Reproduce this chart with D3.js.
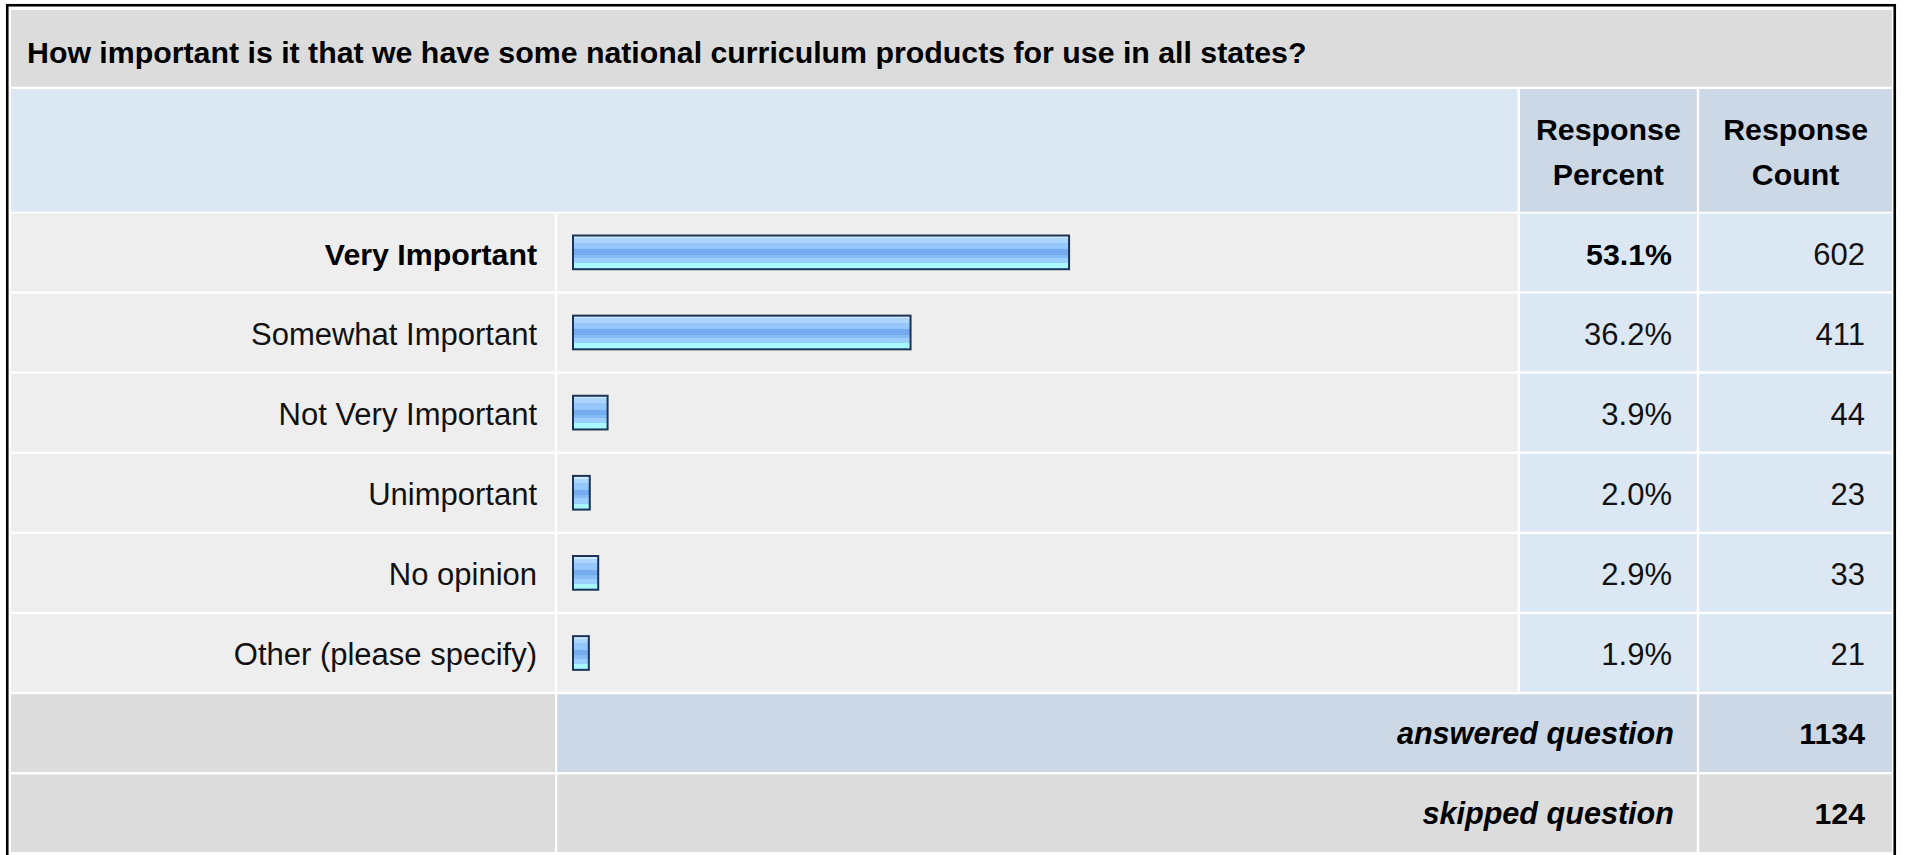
<!DOCTYPE html>
<html>
<head>
<meta charset="utf-8">
<script src="https://cdn.jsdelivr.net/npm/d3@7"></script>
<style>
  html, body { margin: 0; padding: 0; background: #ffffff; }
  svg { display: block; }
</style>
</head>
<body>
<svg id="chart" width="1907" height="855"></svg>
<script>
// ---- data ----
const title = "How important is it that we have some national curriculum products for use in all states?";
const categories = ["Very Important", "Somewhat Important", "Not Very Important", "Unimportant", "No opinion", "Other (please specify)"];
const percents = [53.1, 36.2, 3.9, 2.0, 2.9, 1.9];
const counts = [602, 411, 44, 23, 33, 21];
const headerPercent = ["Response", "Percent"];
const headerCount = ["Response", "Count"];
const summaryLabels = ["answered question", "skipped question"];
const summaryValues = [1134, 124];

// ---- layout ----
const W = 1907, H = 855;
const FONT = "'Liberation Sans', Arial, Helvetica, sans-serif";
const FS_REG = 31, FS_BOLD = 30.3, FS_IT = 30.6;
const col = {
  label: [11, 555],
  bar: [557.3, 1517.6],
  pct: [1520, 1696.8],
  cnt: [1699.2, 1892]
};
const C = {
  title: "#dcdcdc",
  headLeft: "#dce7f4",
  headCol: "#ccd8e6",
  rowCell: "#eeeeee",
  rowVal: "#dce7f4",
  ansCell: "#ccd8e6",
  skipCell: "#dcdcdc",
  text: "#111111",
  barStroke: "#1b3455"
};

const svg = d3.select("#chart");

// gradient for bars
const defs = svg.append("defs");
const grad = defs.append("linearGradient").attr("id", "barGrad")
  .attr("x1", 0).attr("y1", 0).attr("x2", 0).attr("y2", 1);
const stops = [
  [0, "#d0e8ff"], [0.08, "#d0e8ff"], [0.08, "#abd4ff"], [0.21, "#abd4ff"],
  [0.21, "#95c7fb"], [0.41, "#95c7fb"], [0.41, "#74acef"], [0.57, "#74acef"],
  [0.57, "#86bcf6"], [0.67, "#86bcf6"], [0.67, "#9bcfff"], [0.82, "#9bcfff"],
  [0.82, "#aaf8ff"], [1, "#aaf8ff"]
];
stops.forEach(s => grad.append("stop").attr("offset", s[0]).attr("stop-color", s[1]));

// outer border
svg.append("rect")
  .attr("x", 7.25).attr("y", 5.25)
  .attr("width", 1887.5).attr("height", 900)
  .attr("fill", "none").attr("stroke", "#000").attr("stroke-width", 2.6);

// title band
svg.append("rect").attr("x", 11).attr("y", 10).attr("width", 1881).attr("height", 76.7).attr("fill", C.title);
svg.append("text").attr("x", 27).attr("y", 62.5)
  .attr("font-family", FONT).attr("font-size", FS_BOLD).attr("font-weight", "bold")
  .attr("fill", "#000").text(title);

// header band
const headTop = 89, headBot = 211.7;
svg.append("rect").attr("x", 11).attr("y", headTop).attr("width", col.bar[1] - 11).attr("height", headBot - headTop).attr("fill", C.headLeft);
[[col.pct, headerPercent], [col.cnt, headerCount]].forEach(([c, lines]) => {
  svg.append("rect").attr("x", c[0]).attr("y", headTop).attr("width", c[1] - c[0]).attr("height", headBot - headTop).attr("fill", C.headCol);
  lines.forEach((t, i) => {
    svg.append("text").attr("x", (c[0] + c[1]) / 2).attr("y", 139.5 + i * 45)
      .attr("text-anchor", "middle")
      .attr("font-family", FONT).attr("font-size", FS_BOLD).attr("font-weight", "bold")
      .attr("fill", "#000").text(t);
  });
});

// row scale
const rowKeys = categories.concat(summaryLabels);
const y = d3.scaleBand().domain(rowKeys).range([212.3, 853.3]).paddingInner(0.03).paddingOuter(0.015);
const x = d3.scaleLinear().domain([0, 100]).range([0, 938]);
const maxPct = d3.max(percents);

// data rows
const rows = svg.append("g").selectAll("g.row")
  .data(categories.map((c, i) => ({ cat: c, pct: percents[i], cnt: counts[i] })))
  .join("g").attr("class", "row");

rows.append("rect").attr("x", col.label[0]).attr("y", d => y(d.cat)).attr("width", col.label[1] - col.label[0]).attr("height", y.bandwidth()).attr("fill", C.rowCell);
rows.append("rect").attr("x", col.bar[0]).attr("y", d => y(d.cat)).attr("width", col.bar[1] - col.bar[0]).attr("height", y.bandwidth()).attr("fill", C.rowCell);
rows.append("rect").attr("x", col.pct[0]).attr("y", d => y(d.cat)).attr("width", col.pct[1] - col.pct[0]).attr("height", y.bandwidth()).attr("fill", C.rowVal);
rows.append("rect").attr("x", col.cnt[0]).attr("y", d => y(d.cat)).attr("width", col.cnt[1] - col.cnt[0]).attr("height", y.bandwidth()).attr("fill", C.rowVal);

const barH = 35.7;
rows.append("rect")
  .attr("x", 573)
  .attr("y", d => y(d.cat) + y.bandwidth() / 2 - barH / 2 + 1)
  .attr("width", d => x(d.pct) - 2)
  .attr("height", barH - 2)
  .attr("fill", "url(#barGrad)")
  .attr("stroke", C.barStroke).attr("stroke-width", 2);

const isMax = d => d.pct === maxPct;
rows.append("text")
  .attr("x", 537).attr("y", d => y(d.cat) + y.bandwidth() / 2 + 12.5)
  .attr("text-anchor", "end")
  .attr("font-family", FONT)
  .attr("font-size", d => isMax(d) ? FS_BOLD : FS_REG)
  .attr("font-weight", d => isMax(d) ? "bold" : "normal")
  .attr("fill", d => isMax(d) ? "#000" : C.text)
  .text(d => d.cat);
rows.append("text")
  .attr("x", 1672).attr("y", d => y(d.cat) + y.bandwidth() / 2 + 12.5)
  .attr("text-anchor", "end")
  .attr("font-family", FONT)
  .attr("font-size", d => isMax(d) ? FS_BOLD : FS_REG)
  .attr("font-weight", d => isMax(d) ? "bold" : "normal")
  .attr("fill", d => isMax(d) ? "#000" : C.text)
  .text(d => d.pct.toFixed(1) + "%");
rows.append("text")
  .attr("x", 1865).attr("y", d => y(d.cat) + y.bandwidth() / 2 + 12.5)
  .attr("text-anchor", "end")
  .attr("font-family", FONT).attr("font-size", FS_REG)
  .attr("fill", C.text)
  .text(d => d.cnt);

// summary rows
const sRows = svg.append("g").selectAll("g.srow")
  .data(summaryLabels.map((l, i) => ({ label: l, val: summaryValues[i], fill: i === 0 ? C.ansCell : C.skipCell })))
  .join("g").attr("class", "srow");
sRows.append("rect").attr("x", col.label[0]).attr("y", d => y(d.label)).attr("width", col.label[1] - col.label[0]).attr("height", y.bandwidth()).attr("fill", C.skipCell);
sRows.append("rect").attr("x", col.bar[0]).attr("y", d => y(d.label)).attr("width", col.pct[1] - col.bar[0]).attr("height", y.bandwidth()).attr("fill", d => d.fill);
sRows.append("rect").attr("x", col.cnt[0]).attr("y", d => y(d.label)).attr("width", col.cnt[1] - col.cnt[0]).attr("height", y.bandwidth()).attr("fill", d => d.fill);
sRows.append("text")
  .attr("x", 1674).attr("y", d => y(d.label) + y.bandwidth() / 2 + 11)
  .attr("text-anchor", "end")
  .attr("font-family", FONT).attr("font-size", FS_IT).attr("font-weight", "bold").attr("font-style", "italic")
  .attr("fill", "#000").text(d => d.label);
sRows.append("text")
  .attr("x", 1865).attr("y", d => y(d.label) + y.bandwidth() / 2 + 11)
  .attr("text-anchor", "end")
  .attr("font-family", FONT).attr("font-size", FS_BOLD).attr("font-weight", "bold")
  .attr("fill", "#000").text(d => d.val);
</script>
</body>
</html>
